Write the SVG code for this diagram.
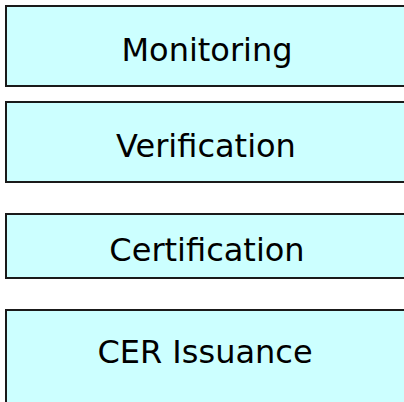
<svg xmlns="http://www.w3.org/2000/svg" width="404" height="402" viewBox="0 0 404 402">
  <style>
    .box { fill: #ccffff; stroke: #1a1a1a; stroke-width: 2; }
    .label { font-family: Tahoma, "DejaVu Sans", "Liberation Sans", sans-serif; font-size: 32px; fill: #000; text-anchor: middle; }
  </style>
  <rect width="404" height="402" fill="#ffffff"/>
  <g id="connectors"></g>
  <g id="monitoring">
    <rect class="box" x="6" y="6" width="410" height="80"/>
    <text class="label" x="207" y="61">Monitoring</text>
  </g>
  <g id="verification">
    <rect class="box" x="6" y="102" width="410" height="80"/>
    <text class="label" x="206" y="157">Verification</text>
  </g>
  <g id="certification">
    <rect class="box" x="6" y="214" width="410" height="64"/>
    <text class="label" x="207" y="261">Certification</text>
  </g>
  <g id="cer-issuance">
    <rect class="box" x="6" y="310" width="410" height="110"/>
    <text class="label" x="205" y="363">CER Issuance</text>
  </g>
</svg>
